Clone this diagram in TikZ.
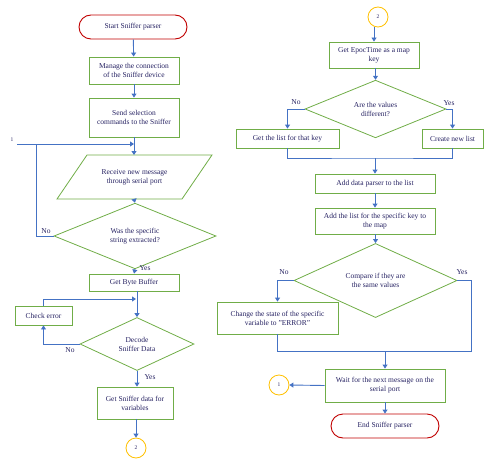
\documentclass[tikz,border=0pt]{standalone}
\usepackage{fontspec}
\setmainfont{Liberation Serif}
\usetikzlibrary{arrows.meta,shapes.geometric}

\definecolor{boxgreen}{RGB}{112,173,71}
\definecolor{linkblue}{RGB}{68,114,196}
\definecolor{termred}{RGB}{192,0,0}
\definecolor{connyellow}{RGB}{255,192,0}
\definecolor{txtnavy}{RGB}{38,34,98}

\tikzset{
  proc/.style={draw=boxgreen,line width=0.9pt,rectangle,inner sep=1pt,align=center,text=txtnavy},
  decide/.style={draw=boxgreen,line width=0.8pt,diamond,inner sep=0pt,align=center,text=txtnavy},
  term/.style={draw=termred,line width=0.9pt,rectangle,rounded corners=12pt,minimum width=108pt,minimum height=24pt,text=txtnavy},
  conn/.style={draw=connyellow,line width=0.8pt,circle,minimum size=20pt,inner sep=0pt,text=txtnavy,font=\fontsize{5.5}{6}\selectfont},
  link/.style={draw=linkblue,line width=0.9pt},
  lbl/.style={text=txtnavy,inner sep=1pt}
}

\begin{document}
\begin{tikzpicture}[x=1pt,y=-1pt,font=\fontsize{7.5}{9}\selectfont,>={Triangle[length=4pt,width=5pt]}]
  \useasboundingbox (0,0) rectangle (484,460);
  % columna izquierda
  \node[term] (start) at (133,27) {Start Sniffer parser};
  \node[proc,minimum width=90pt,minimum height=27pt] (manage) at (134,70.5) {Manage the connection\\of the Sniffer device};
  \node[proc,minimum width=90pt,minimum height=39pt] (send) at (134,117.5) {Send selection\\commands to the Sniffer};
  \node[lbl,align=center,minimum width=125pt,minimum height=44pt] (recv) at (134.5,177) {Receive new message\\through serial port};
  \draw[boxgreen,line width=0.8pt] (87,155) -- (212,155) -- (182,199) -- (57,199) -- cycle;
  \coordinate (recvtop) at (134,155);
  \coordinate (recvbot) at (134,199);
  \node[decide,minimum width=162pt,minimum height=51pt] (chk) at (135,236) {Was the specific\\string extracted?};
  \node[proc,minimum width=90pt,minimum height=17pt] (byte) at (134,282.5) {Get Byte Buffer};
  \node[proc,minimum width=57pt,minimum height=19pt] (checkerr) at (43.5,315.5) {Check error};
  \node[decide,minimum width=114pt,minimum height=53pt] (decode) at (137,344) {Decode\\Sniffer Data};
  \node[proc,minimum width=76pt,minimum height=32pt] (getdata) at (135,403) {Get Sniffer data for\\variables};
  \node[conn] (gotoB) at (136,448) {2};
  \node[lbl,font=\fontsize{5.5}{6}\selectfont] (one) at (12,140) {1};
  \coordinate (in1) at (17,144);
  \coordinate (join1) at (134,144);
  \coordinate (join2) at (136,299);

  \draw[link,->] (start) -- (manage);
  \draw[link,->] (manage) -- (send);
  \draw[link,->] (send) -- (recvtop);
  \draw[link,->] (in1) -- (join1);
  \draw[link] (chk.west) -| (36,144);
  \node[lbl] (no1) at (46,231) {No};
  \draw[link,->] (recvbot) -- (chk.north);
  \draw[link,->] (chk.south) -- (byte.north);
  \node[lbl] (yes1) at (145,268) {Yes};
  \draw[link,->] (byte.south -| decode.north) -- (decode.north);
  \draw[link,->] (checkerr.north) |- (join2);
  \draw[link,->] (decode.west) -| (checkerr.south);
  \node[lbl] (no2) at (70,350) {No};
  \draw[link,->] (decode.south) -- (decode.south |- getdata.north);
  \node[lbl] (yes2) at (150,377) {Yes};
  \draw[link,->] (getdata.south -| gotoB.north) -- (gotoB.north);

  % columna derecha
  \node[conn] (fromB) at (378,17) {2};
  \node[proc,minimum width=90pt,minimum height=26pt] (epoc) at (374,55) {Get EpocTime as a map\\key};
  \node[decide,minimum width=141pt,minimum height=52pt] (diff) at (375.5,109) {Are the values\\different?};
  \node[proc,minimum width=103pt,minimum height=19pt] (getlist) at (287.5,138.5) {Get the list for that key};
  \node[proc,minimum width=61pt,minimum height=19pt] (newlist) at (452.5,138.5) {Create new list};
  \node[proc,minimum width=120pt,minimum height=19pt] (adddata) at (375,183.5) {Add data parser to the list};
  \node[proc,minimum width=120pt,minimum height=26pt] (addlist) at (375,221) {Add the list for the specific key to\\the map};
  \node[decide,minimum width=163pt,minimum height=53pt] (same) at (375.5,280.5) {Compare if they are\\the same values};
  \node[proc,minimum width=121pt,minimum height=32pt] (chstate) at (277.5,318) {Change the state of the specific\\variable to "ERROR"};
  \node[proc,minimum width=120pt,minimum height=33pt] (wait) at (385,385.5) {Wait for the next message on the\\serial port};
  \node[conn] (gotoA) at (279,385) {1};
  \node[term] (stop) at (385,426) {End Sniffer parser};
  \coordinate (m3) at (375,158);
  \coordinate (m4r) at (471,351);
  \coordinate (m4) at (385,351);

  \draw[link,->] (fromB.south -| epoc.north) -- (epoc.north);
  \draw[link,->] (epoc.south -| diff.north) -- (diff.north);
  \draw[link,->] (diff.west) -| (getlist.north);
  \node[lbl] (no3) at (296,102) {No};
  \draw[link,->] (diff.east) -| (newlist.north);
  \node[lbl] (yes3) at (449,103) {Yes};
  \draw[link] (getlist.south) |- (m3) -| (newlist.south);
  \draw[link,->] (m3) -- (adddata.north);
  \draw[link,->] (adddata) -- (addlist);
  \draw[link,->] (addlist.south -| same.north) -- (same.north);
  \draw[link,->] (same.west) -| (chstate.north);
  \node[lbl] (no4) at (284,272) {No};
  \draw[link] (same.east) -| (m4r) -| (chstate.south);
  \node[lbl] (yes4) at (462,272) {Yes};
  \draw[link,->] (m4) -- (wait.north);
  \draw[link,->] (wait.west) -- (gotoA.east);
  \draw[link,->] (wait) -- (stop);
\end{tikzpicture}
\end{document}
